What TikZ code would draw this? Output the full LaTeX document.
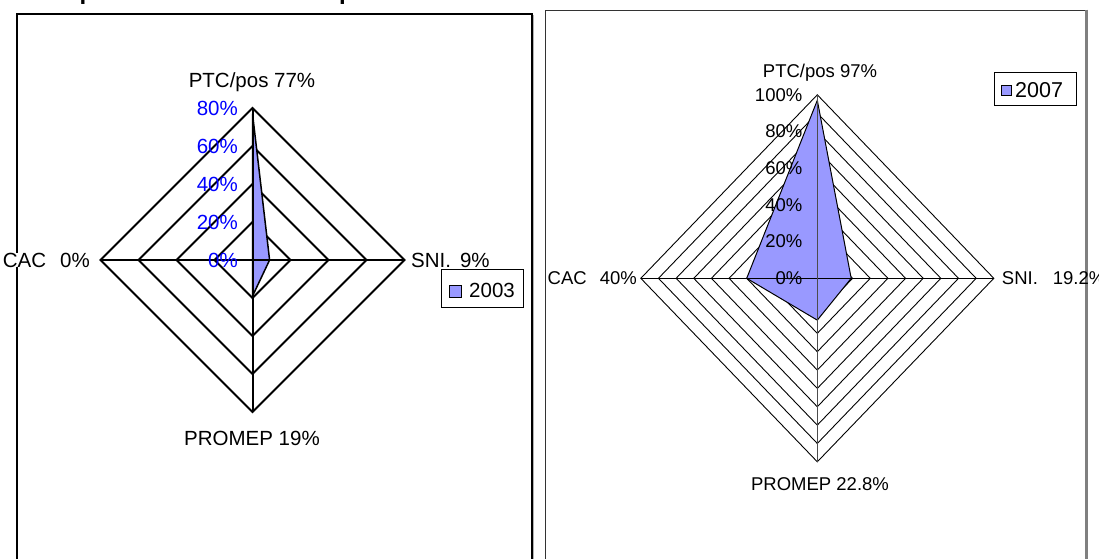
\documentclass[tikz,border=0pt]{standalone}
\usepackage{fontspec}
\setmainfont{Liberation Sans}
\definecolor{serie}{RGB}{153,153,255}
\definecolor{axisblue}{RGB}{0,0,255}
\tikzset{
  ringL/.style={line width=2pt, line join=miter},
  ringR/.style={line width=0.9pt, line join=miter},
  dataL/.style={fill=serie, draw=black, line width=1.5pt, line join=miter},
  dataR/.style={fill=serie, draw=black, line width=1pt, line join=miter},
  txtL/.style={inner sep=0pt, font=\fontsize{20.5}{24}\selectfont},
  txtR/.style={inner sep=0pt, font=\fontsize{18.5}{22}\selectfont},
  tickL/.style={txtL, text=axisblue, anchor=east},
  tickR/.style={txtR, anchor=east},
  legbox/.style={draw=black, line width=1pt, fill=white},
  legsq/.style={draw=black, line width=1pt, fill=serie},
  titlep/.style={inner sep=0pt, font=\fontsize{24}{28}\selectfont\bfseries, anchor=base west}
}
\begin{document}
\begin{tikzpicture}[x=1pt,y=-1pt]
\useasboundingbox (0,0) rectangle (1099,558);
\fill[white] (0,0) rectangle (1099,558);
% cut-off title (descenders only)
\node[titlep] (t1) at (79.3,-0.6) {p};
\node[titlep] (t2) at (338.8,-0.6) {p};
% ---------- left chart frame ----------
\draw[line width=1pt, gray!60] (533.2,15) -- (533.2,600);
\draw[line width=2pt] (16.7,600) -- (16.7,14) -- (531.7,14) -- (531.7,600);
% ---------- left chart ----------
\begin{scope}[shift={(252.5,260)}]
  \foreach \r in {38,76,114,152}
    \draw[ringL] (0,-\r) -- (\r,0) -- (0,\r) -- (-\r,0) -- cycle;
  \draw[dataL] (0,-146.3) -- (17.1,0) -- (0,36.1) -- (0,0) -- cycle;
  \draw[line width=2pt] (-152,0) -- (152,0);
  \draw[line width=2pt] (0,-152) -- (0,152);
  \node[tickL] (l80) at (-14.5,-152) {80\%};
  \node[tickL] (l60) at (-14.5,-114) {60\%};
  \node[tickL] (l40) at (-14.5,-76) {40\%};
  \node[tickL] (l20) at (-14.5,-38) {20\%};
  \node[tickL] (l0) at (-14.5,0) {0\%};
\end{scope}
\node[txtL, anchor=base] (ptcL) at (252,87.3) {PTC/pos 77\%};
\node[txtL, anchor=east, fill=white] (cacL) at (90,260) {CAC\hspace{14pt}0\%};
\node[txtL, anchor=west] (sniL) at (411,260) {SNI.\hspace{9pt}9\%};
\node[txtL] (proL) at (252,438) {PROMEP 19\%};
% legend 2003
\node[legbox, minimum width=82pt, minimum height=38pt, inner sep=0pt] (legL) at (482.7,288.5) {};
\draw[legsq] (449.5,285) rectangle (461.5,297);
\node[txtL, anchor=west] (legLt) at (469,290.8) {2003};
% ---------- right chart frame ----------
\draw[line width=1pt, black!80] (545,600) -- (545,10) -- (1086.7,10);
\draw[line width=2.5pt, gray] (1086.7,9.5) -- (1086.7,600);
% ---------- right chart ----------
\begin{scope}[shift={(817.3,278.3)}, x=17.65pt, y=-18.35pt]
  \foreach \k in {1,...,10}
    \draw[ringR] (0,-\k) -- (\k,0) -- (0,\k) -- (-\k,0) -- cycle;
  \draw[dataR] (0,-9.7) -- (1.92,0) -- (0,2.28) -- (-4.0,0) -- cycle;
  \draw[line width=0.9pt] (-10,0) -- (10,0);
  \draw[line width=1pt, black!70] (0,-10) -- (0,10);
\end{scope}
\node[tickR] (r100) at (802.5,94.8) {100\%};
\node[tickR] (r80) at (802.5,131.5) {80\%};
\node[tickR] (r60) at (802.5,168.2) {60\%};
\node[tickR] (r40) at (802.5,204.9) {40\%};
\node[tickR] (r20) at (802.5,241.6) {20\%};
\node[tickR] (r0) at (802.5,278.3) {0\%};
\node[txtR, anchor=base] (ptcR) at (820,77.7) {PTC/pos 97\%};
\node[txtR, anchor=east] (cacR) at (637,278.3) {CAC\hspace{13pt}40\%};
\node[txtR, anchor=west] (sniR) at (1001.7,278.3) {SNI.\hspace{15pt}19.2\%};
\node[txtR] (proR) at (820,484) {PROMEP 22.8\%};
% legend 2007
\node[legbox, minimum width=82.4pt, minimum height=33.4pt, inner sep=0pt] (legR) at (1035.5,89) {};
\draw[legsq] (1001,85) rectangle (1011,95);
\node[txtR, font=\fontsize{21.5}{24}\selectfont, anchor=west] (legRt) at (1015,90) {2007};
\end{tikzpicture}
\end{document}
